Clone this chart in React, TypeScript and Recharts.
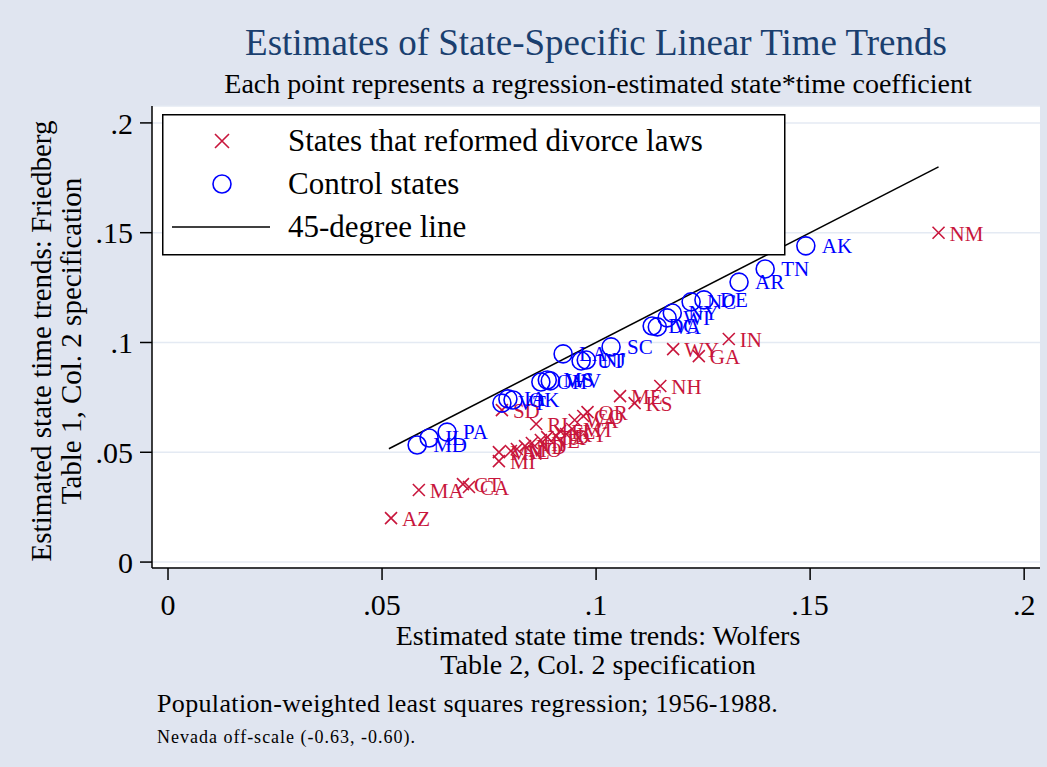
import { ScatterChart, Scatter, XAxis, YAxis, CartesianGrid, ReferenceLine, Legend } from "recharts";

const FONT = '"Liberation Serif", "Times New Roman", serif';
const RED = "#c8163c";
const BLUE = "#0000ff";
const NAVY = "#1a3f6f";
const BG = "#e0e5f0";

// states that reformed divorce laws
const reformStates = ["NM", "IN", "WY", "GA", "NH", "ME", "KS", "OR", "CO", "WA", "RI", "SD", "KY", "FL", "MT", "ID", "TX", "NE", "HI", "ND", "MO", "AL", "MN", "MI", "CA", "CT", "MA", "AZ"];
const reformWolfers = [0.18, 0.131, 0.118, 0.124, 0.115, 0.1056, 0.109, 0.098, 0.097, 0.095, 0.086, 0.078, 0.093, 0.0916, 0.0944, 0.0907, 0.0886, 0.0871, 0.085, 0.0834, 0.0815, 0.0801, 0.0773, 0.0773, 0.0703, 0.0689, 0.0586, 0.0521];
const reformFriedberg = [0.15, 0.1016, 0.097, 0.0938, 0.0802, 0.0756, 0.0724, 0.0683, 0.0665, 0.0647, 0.0629, 0.0692, 0.0583, 0.0597, 0.0606, 0.0574, 0.0569, 0.0556, 0.0542, 0.0528, 0.0515, 0.0506, 0.0501, 0.046, 0.0342, 0.0355, 0.0328, 0.02];

// control states
const controlStates = ["AK", "TN", "AR", "DE", "NC", "NY", "WI", "DC", "VA", "SC", "LA", "NJ", "UT", "OH", "MS", "WV", "VT", "IA", "OK", "PA", "IL", "MD"];
const controlWolfers = [0.149, 0.1395, 0.1334, 0.1252, 0.1222, 0.1178, 0.1166, 0.1131, 0.1143, 0.1035, 0.0923, 0.0977, 0.0965, 0.0871, 0.0886, 0.0893, 0.078, 0.0794, 0.0806, 0.0652, 0.061, 0.0582];
const controlFriedberg = [0.144, 0.1335, 0.1275, 0.1194, 0.1185, 0.1134, 0.1112, 0.1075, 0.1071, 0.098, 0.0948, 0.092, 0.0916, 0.082, 0.0829, 0.0825, 0.0724, 0.0743, 0.0738, 0.0592, 0.0565, 0.0533];

const lineEnds = [0.0516, 0.18];
const ticks = [0, 0.05, 0.1, 0.15, 0.2];

const reformData = reformStates.map((state, i) => ({ state, x: reformWolfers[i], y: reformFriedberg[i] }));
const controlData = controlStates.map((state, i) => ({ state, x: controlWolfers[i], y: controlFriedberg[i] }));

const fmt = (v: number) => (v === 0 ? "0" : String(v).replace(/^0/, ""));

function ReformMark(props: any) {
  const { cx, cy, payload } = props;
  const s = 6;
  return (
    <g>
      <path
        d={`M${cx - s},${cy - s}L${cx + s},${cy + s}M${cx - s},${cy + s}L${cx + s},${cy - s}`}
        stroke={RED}
        strokeWidth={1.6}
        fill="none"
      />
      <text x={cx + 11} y={cy + 8} fill={RED} fontSize={21} fontFamily={FONT}>
        {payload.state}
      </text>
    </g>
  );
}

function ControlMark(props: any) {
  const { cx, cy, payload } = props;
  return (
    <g>
      <circle cx={cx} cy={cy} r={9} stroke={BLUE} strokeWidth={1.6} fill="none" />
      <text x={cx + 16} y={cy + 7} fill={BLUE} fontSize={21} fontFamily={FONT}>
        {payload.state}
      </text>
    </g>
  );
}

function LegendBox() {
  return (
    <svg width={624} height={142} style={{ display: "block" }}>
      <rect x={0.75} y={0.75} width={622} height={140} fill="#fff" stroke="#000" strokeWidth={1.5} />
      <path d="M53,20L67,34M53,34L67,20" stroke={RED} strokeWidth={1.6} />
      <text x={126} y={37} fontSize={31} fontFamily={FONT} fill="#000">
        States that reformed divorce laws
      </text>
      <circle cx={60} cy={70} r={9} stroke={BLUE} strokeWidth={1.6} fill="none" />
      <text x={126} y={80} fontSize={31} fontFamily={FONT} fill="#000">
        Control states
      </text>
      <line x1={10} x2={108} y1={113} y2={113} stroke="#000" strokeWidth={1.5} />
      <text x={126} y={123} fontSize={31} fontFamily={FONT} fill="#000">
        45-degree line
      </text>
    </svg>
  );
}

export default function App() {
  const axisStyle = { stroke: "#000", strokeWidth: 1.5 };
  const tickStyle = { fill: "#000", fontSize: 30, fontFamily: FONT };
  return (
    <div style={{ position: "absolute", left: 0, top: 0, width: 1047, height: 767, background: BG, fontFamily: FONT }}>
      <ScatterChart width={1047} height={767} margin={{ top: 106, right: 7, bottom: 139, left: 72 }}>
        <CartesianGrid horizontal vertical={false} stroke="#e4eaf3" strokeWidth={1.5} fill="#fff" />
        <XAxis
          type="number"
          dataKey="x"
          domain={[-0.00374, 0.2037]}
          ticks={ticks}
          tickFormatter={fmt}
          height={60}
          tickSize={12}
          tickMargin={14}
          axisLine={axisStyle}
          tickLine={axisStyle}
          tick={tickStyle}
          allowDataOverflow
        />
        <YAxis
          type="number"
          dataKey="y"
          domain={[-0.0027, 0.2077]}
          ticks={ticks}
          tickFormatter={fmt}
          width={80}
          tickSize={12}
          tickMargin={7}
          axisLine={axisStyle}
          tickLine={axisStyle}
          tick={tickStyle}
          allowDataOverflow
        />
        <ReferenceLine
          segment={[
            { x: lineEnds[0], y: lineEnds[0] },
            { x: lineEnds[1], y: lineEnds[1] },
          ]}
          stroke="#000"
          strokeWidth={1.5}
        />
        <Scatter data={reformData} shape={ReformMark} isAnimationActive={false} />
        <Scatter data={controlData} shape={ControlMark} isAnimationActive={false} />
        <Legend
          layout="horizontal"
          verticalAlign="middle"
          align="center"
          content={() => <LegendBox />}
          wrapperStyle={{ position: "absolute", left: 162, top: 114, width: 624, height: 142 }}
        />
      </ScatterChart>
      <svg
        width={1047}
        height={767}
        style={{ position: "absolute", left: 0, top: 0, pointerEvents: "none" }}
      >
        <text x={596} y={55} textAnchor="middle" fontSize={37} fill={NAVY} fontFamily={FONT}>
          Estimates of State-Specific Linear Time Trends
        </text>
        <text x={598} y={93} textAnchor="middle" fontSize={28} fill="#000" fontFamily={FONT}>
          Each point represents a regression-estimated state*time coefficient
        </text>
        <text x={598} y={645} textAnchor="middle" fontSize={28} fill="#000" fontFamily={FONT}>
          Estimated state time trends: Wolfers
        </text>
        <text x={598} y={674} textAnchor="middle" fontSize={28} fill="#000" fontFamily={FONT}>
          Table 2, Col. 2 specification
        </text>
        <text transform="translate(51,341) rotate(-90)" textAnchor="middle" fontSize={29} fill="#000" fontFamily={FONT}>
          Estimated state time trends: Friedberg
        </text>
        <text transform="translate(81,341) rotate(-90)" textAnchor="middle" fontSize={29} fill="#000" fontFamily={FONT}>
          Table 1, Col. 2 specification
        </text>
        <text x={157} y={712} fontSize={26} fill="#000" fontFamily={FONT} letterSpacing={0.35}>
          Population-weighted least squares regression; 1956-1988.
        </text>
        <text x={157} y={743} fontSize={18} fill="#000" fontFamily={FONT} letterSpacing={1}>
          Nevada off-scale (-0.63, -0.60).
        </text>
      </svg>
    </div>
  );
}
